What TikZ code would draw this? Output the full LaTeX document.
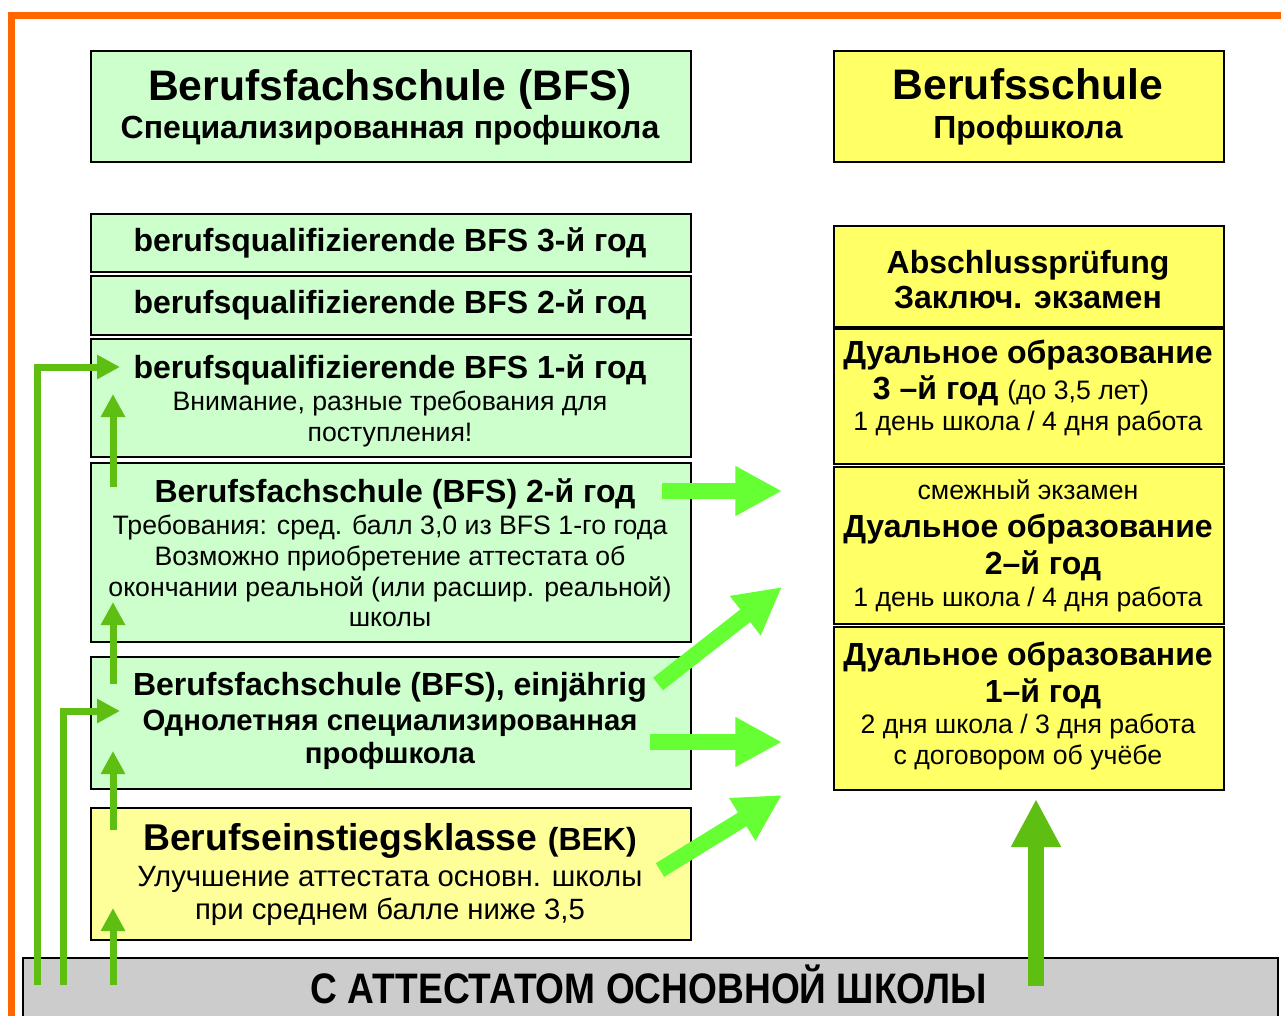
\documentclass[tikz,border=0pt]{standalone}
\usepackage{fontspec}
\setmainfont{Liberation Sans}
\newfontfamily\narrowfont{Liberation Sans}[FakeStretch=0.87]
\usetikzlibrary{arrows.meta}
\definecolor{frameorange}{HTML}{FF6600}
\definecolor{lgreen}{HTML}{CCFFCC}
\definecolor{yel}{HTML}{FFFF66}
\definecolor{lyel}{HTML}{FFFF99}
\definecolor{barg}{HTML}{CCCCCC}
\definecolor{dgreen}{HTML}{5EBE12}
\definecolor{bgreen}{HTML}{66FF33}
\tikzset{
  box/.style 2 args={draw=black, line width=1.5pt, anchor=north west, inner sep=0pt,
    minimum width=#1*0.75pt, minimum height=#2*0.75pt},
  tB/.style={font=\fontsize{#1}{#1}\selectfont\bfseries, inner sep=0pt, anchor=base},
  tR/.style={font=\fontsize{#1}{#1}\selectfont, inner sep=0pt, anchor=base},
  darr/.style={draw=dgreen, line width=5.25pt, -{Triangle[length=17.25pt,width=17.25pt]}},
  bigarr/.style={draw=dgreen, line width=12pt, -{Triangle[length=36pt,width=35pt]}},
  barr/.style={draw=bgreen, line width=12pt, -{Triangle[length=35pt,width=35pt]}},
}
\begin{document}
\begin{tikzpicture}[x=0.75pt,y=-0.75pt]
\useasboundingbox (0,0) rectangle (1281,1016);
\clip (0,0) rectangle (1281,1016);
\fill[white] (0,0) rectangle (1281,1016);
% frame
\draw[frameorange, line width=5.25pt] (11,1030) -- (11,15.5) -- (1290,15.5);
% header boxes
\node[box={600}{111}, fill=lgreen] (hbfs) at (90,50) {};
\node[box={390}{111}, fill=yel] (hbs) at (833,50) {};
% left column
\node[box={600}{58}, fill=lgreen] (q3) at (90,213) {};
\node[box={600}{59}, fill=lgreen] (q2) at (90,275) {};
\node[box={600}{118}, fill=lgreen] (q1) at (90,338) {};
\node[box={600}{179}, fill=lgreen] (bfs2) at (90,462) {};
\node[box={600}{132}, fill=lgreen] (bfs1) at (90,656) {};
\node[box={600}{132}, fill=lyel] (bek) at (90,807) {};
% right column
\node[box={390}{101}, fill=yel] (abs) at (833,225) {};
\node[box={390}{135}, fill=yel] (du3) at (833,328) {};
\node[box={390}{157}, fill=yel] (du2) at (833,466) {};
\node[box={390}{163}, fill=yel] (du1) at (833,626) {};
% bottom bar
\node[box={1255}{80}, fill=barg] (bar) at (22,957) {};
% texts
\node[tB=32] (t1) at (390,101) {Berufsfachschule (BFS)};
\node[tB=24] (t2) at (390,139) {Специализированная профшкола};
\node[tB=32] (t3) at (1028,100) {Berufsschule};
\node[tB=24] (t4) at (1028,139) {Профшкола};
\node[tB=24] (t5) at (390,252) {berufsqualifizierende BFS 3-й год};
\node[tB=24] (t6) at (390,313) {berufsqualifizierende BFS 2-й год};
\node[tB=24] (t7) at (390,378) {berufsqualifizierende BFS 1-й год};
\node[tR=20] (t8) at (390,410) {Внимание, разные требования для};
\node[tR=20] (t9) at (390,441) {поступления!};
\node[tB=24] (t10) at (395,502) {Berufsfachschule (BFS) 2-й год};
\node[tR=20] (t11) at (390,534) {Требования: сред. балл 3,0 из BFS 1-го года};
\node[tR=20] (t12) at (390,565) {Возможно приобретение аттестата об};
\node[tR=20] (t13) at (390,596) {окончании реальной (или расшир. реальной)};
\node[tR=20] (t14) at (390,626) {школы};
\node[tB=24] (t15) at (390,695) {Berufsfachschule (BFS), einjährig};
\node[tB=22] (t16) at (390,730) {Однолетняя специализированная};
\node[tB=22] (t17) at (390,763) {профшкола};
\node[tB=28] (t18) at (390,850) {Berufseinstiegsklasse {\fontsize{24}{24}\selectfont(BEK)}};
\node[tR=22] (t19) at (390,886) {Улучшение аттестата основн. школы};
\node[tR=22] (t20) at (390,919) {при среднем балле ниже 3,5};
\node[tB=24] (t21) at (1028,273) {Abschlussprüfung};
\node[tB=24] (t22) at (1028,309) {Заключ. экзамен};
\node[tB=24] (t23) at (1028,363) {Дуальное образование};
\node[tB=24] (t24) at (1011,399) {3 –й год {\mdseries\fontsize{20}{20}\selectfont(до 3,5 лет)}};
\node[tR=20] (t25) at (1028,430) {1 день школа / 4 дня работа};
\node[tR=20] (t26) at (1028,499) {смежный экзамен};
\node[tB=24] (t27) at (1028,537) {Дуальное образование};
\node[tB=24] (t28) at (1043,574) {2–й год};
\node[tR=20] (t29) at (1028,606) {1 день школа / 4 дня работа};
\node[tB=24] (t30) at (1028,665) {Дуальное образование};
\node[tB=24] (t31) at (1043,702) {1–й год};
\node[tR=20] (t32) at (1028,733) {2 дня школа / 3 дня работа};
\node[tR=20] (t33) at (1028,764) {с договором об учёбе};
\node[tB=32, font=\fontsize{32}{32}\selectfont\narrowfont\bfseries] (t34) at (649,1003) {С АТТЕСТАТОМ ОСНОВНОЙ ШКОЛЫ};
% arrow coordinates
\coordinate (d1s) at (37,985);  \coordinate (d1e) at (120,367);
\coordinate (d2s) at (63,985);  \coordinate (d2e) at (120,711);
\coordinate (d3s) at (113,985); \coordinate (d3e) at (113,908);
\coordinate (d4s) at (113,830); \coordinate (d4e) at (113,751);
\coordinate (d5s) at (113,684); \coordinate (d5e) at (113,602);
\coordinate (d6s) at (113,487); \coordinate (d6e) at (113,394);
\coordinate (bgs) at (1036,986); \coordinate (bge) at (1036,799);
\coordinate (b1s) at (662,491); \coordinate (b1e) at (782,491);
\coordinate (b2s) at (658,684); \coordinate (b2e) at (782,587);
\coordinate (b3s) at (650,742); \coordinate (b3e) at (782,742);
\coordinate (b4s) at (660,870); \coordinate (b4e) at (782,795);
% arrows
\draw[darr] (d1s) |- (d1e);
\draw[darr] (d2s) |- (d2e);
\draw[darr] (d3s) -- (d3e);
\draw[darr] (d4s) -- (d4e);
\draw[darr] (d5s) -- (d5e);
\draw[darr] (d6s) -- (d6e);
\draw[bigarr] (bgs) -- (bge);
\draw[barr] (b1s) -- (b1e);
\draw[barr] (b2s) -- (b2e);
\draw[barr] (b3s) -- (b3e);
\draw[barr] (b4s) -- (b4e);
\end{tikzpicture}
\end{document}
